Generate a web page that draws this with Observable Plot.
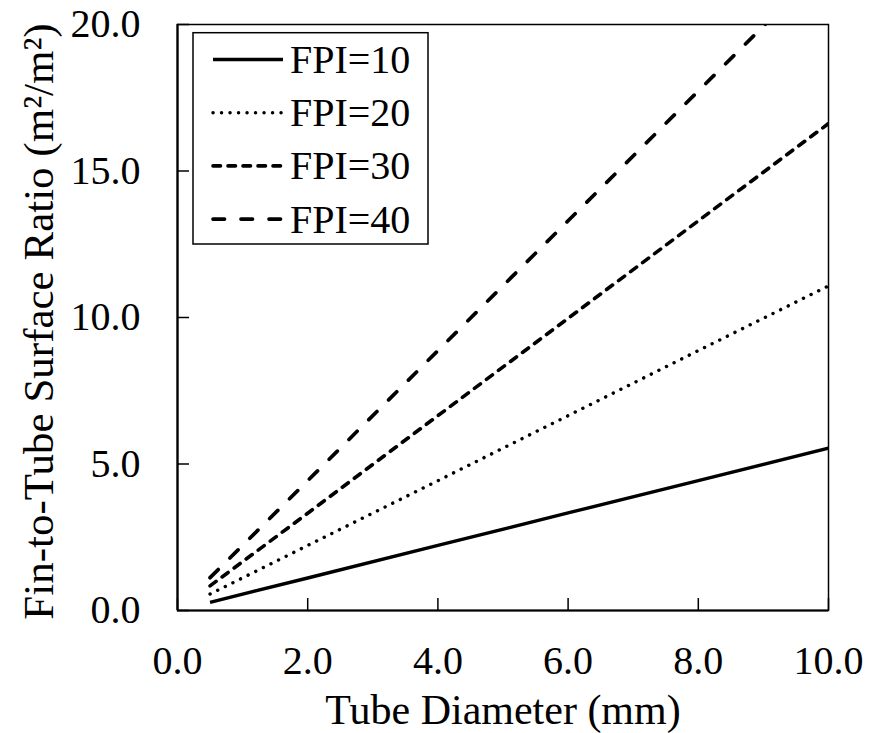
<!DOCTYPE html>
<html>
<head>
<meta charset="utf-8">
<script src="https://cdn.jsdelivr.net/npm/d3@7"></script>
<script src="https://cdn.jsdelivr.net/npm/@observablehq/plot@0.6"></script>
<style>
  html, body { margin: 0; padding: 0; background: #fff; }
  #wrap { position: relative; width: 881px; height: 733px; font-family: "Liberation Serif", "Times New Roman", serif; }
  #legend { position: absolute; left: 0; top: 0; pointer-events: none; }
</style>
</head>
<body>
<div id="wrap"></div>
<script>
// ---- data ----
const diameters = [0.5, 2, 4, 6, 8, 10];            // tube diameter (mm)
const fpi10 = [0.28, 1.11, 2.22, 3.33, 4.43, 5.54];
const fpi20 = [0.56, 2.22, 4.43, 6.65, 8.87, 11.08];
const fpi30 = [0.84, 3.32, 6.65, 9.97, 13.30, 16.62];
const fpi40 = [1.12, 4.43, 8.87, 13.30, 17.73, 22.16];
const seriesNames = ["FPI=10", "FPI=20", "FPI=30", "FPI=40"];
const xTicks = [0, 2, 4, 6, 8, 10];
const yTicks = [0, 5, 10, 15, 20];
const xTitle = "Tube Diameter (mm)";
const yTitle = "Fin-to-Tube Surface Ratio (m²/m²)";

// ---- styles ----
const seriesValues = [fpi10, fpi20, fpi30, fpi40];
const dashes = [null, "0.1,8.4", "7.5,7.5", "11.5,16.5"];
const widths = [3.4, 3.4, 3.6, 3.7];

const W = 881, H = 733;
const mL = 177, mR = 53, mT = 24, mB = 123;
const frameW = W - mL - mR, frameH = H - mT - mB;
const font = "Liberation Serif, Times New Roman, serif";

const rows = [];
seriesNames.forEach((s, i) => diameters.forEach((d, j) => rows.push({series: s, d, v: seriesValues[i][j]})));

const lineMarks = seriesNames.map((s, i) =>
  Plot.line(rows.filter(r => r.series === s), {
    x: "d", y: "v", stroke: "black", strokeWidth: widths[i],
    strokeDasharray: dashes[i], strokeLinecap: i === 0 ? "butt" : "round",
    clip: true
  })
);

const chart = Plot.plot({
  width: W, height: H,
  marginLeft: mL, marginRight: mR, marginTop: mT, marginBottom: mB,
  style: {fontFamily: font, fontSize: "40px", color: "black", background: "white", overflow: "visible"},
  x: {domain: [0, 10]},
  y: {domain: [0, 20]},
  marks: [
    ...lineMarks,
    Plot.frame({stroke: "black", strokeWidth: 1.5}),
    Plot.ruleX([0], {stroke: "black", strokeWidth: 2.2}),
    Plot.ruleY([0], {stroke: "black", strokeWidth: 2.2}),
    Plot.ruleX(xTicks, {x: d => d, stroke: "black", strokeWidth: 1.5, insetTop: frameH - 12}),
    Plot.ruleY(yTicks, {y: d => d, stroke: "black", strokeWidth: 1.5, insetRight: frameW - 12}),
    Plot.axisX({ticks: xTicks, tickSize: 0, tickPadding: 35, tickFormat: d => d.toFixed(1), fontSize: 40, label: null}),
    Plot.axisY({ticks: yTicks, tickSize: 0, tickPadding: 37, tickFormat: d => d.toFixed(1), fontSize: 40, label: null}),
    Plot.text([xTitle], {frameAnchor: "bottom", textAnchor: "middle", lineAnchor: "bottom", dy: 113, fontSize: 42, fill: "black"}),
    Plot.text([yTitle], {frameAnchor: "left", textAnchor: "middle", rotate: -90, lineAnchor: "middle", dx: -138, dy: 4, fontSize: 43, fill: "black"})
  ]
});
const wrap = document.getElementById("wrap");
wrap.appendChild(chart);

// ---- legend (inside plot area, upper left) ----
const lg = d3.select(wrap).append("svg").attr("id", "legend").attr("width", W).attr("height", H);
const box = {x: 193, y: 32.7, w: 235, h: 211.3};
lg.append("rect").attr("x", box.x).attr("y", box.y).attr("width", box.w).attr("height", box.h)
  .attr("fill", "white").attr("stroke", "black").attr("stroke-width", 1.5);
const rowStep = 53.2, firstBase = 73;
seriesNames.forEach((s, i) => {
  const base = firstBase + i * rowStep;
  lg.append("line").attr("x1", 213).attr("x2", 283).attr("y1", base - 13.5).attr("y2", base - 13.5)
    .attr("stroke", "black").attr("stroke-width", widths[i])
    .attr("stroke-dasharray", dashes[i]).attr("stroke-linecap", i === 0 ? "butt" : "round");
  lg.append("text").attr("x", 290).attr("y", base).attr("font-family", font).attr("font-size", 40)
    .attr("fill", "black").text(s);
});
</script>
</body>
</html>
